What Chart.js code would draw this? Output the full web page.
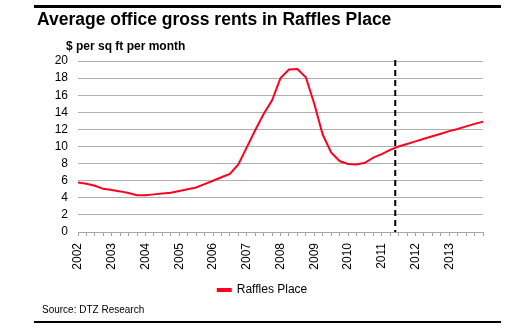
<!DOCTYPE html>
<html>
<head>
<meta charset="utf-8">
<script src="https://cdn.jsdelivr.net/npm/chart.js@4"></script>
<style>
  html, body { margin: 0; padding: 0; background: #fff; }
  #wrap { width: 530px; height: 335px; position: relative; }
</style>
</head>
<body>
<div id="wrap"><canvas id="c" width="530" height="335"></canvas></div>
<script>
// quarterly points, as decimal years
const quarters = [
  2002.00, 2002.25, 2002.50, 2002.75, 2003.00, 2003.25, 2003.50, 2003.75,
  2004.00, 2004.25, 2004.50, 2004.75, 2005.00, 2005.25, 2005.50, 2005.75,
  2006.00, 2006.25, 2006.50, 2006.75, 2007.00, 2007.25, 2007.50, 2007.75,
  2008.00, 2008.25, 2008.50, 2008.75, 2009.00, 2009.25, 2009.50, 2009.75,
  2010.00, 2010.25, 2010.50, 2010.75, 2011.00, 2011.25, 2011.50, 2011.75,
  2012.00, 2012.25, 2012.50, 2012.75, 2013.00, 2013.25, 2013.50, 2013.75,
  2014.00
];
const rafflesPlace = [
  5.8, 5.65, 5.4, 5.05, 4.9, 4.75, 4.55, 4.3,
  4.3, 4.4, 4.5, 4.6, 4.8, 5.0, 5.2, 5.6,
  6.0, 6.4, 6.8, 7.9, 9.9, 11.9, 13.8, 15.4,
  18.0, 19.0, 19.05, 18.1, 15.0, 11.4, 9.3, 8.3,
  7.95, 7.9, 8.1, 8.7, 9.1, 9.6, 10.0, 10.3,
  10.6, 10.9, 11.2, 11.5, 11.8, 12.05, 12.35, 12.65,
  12.9
];
const yearLabels = ["2002", "2003", "2004", "2005", "2006", "2007",
  "2008", "2009", "2010", "2011", "2012", "2013"];
const forecastStart = 2011.4;

const titleText = "Average office gross rents in Raffles Place";
const unitText = "$ per sq ft per month";
const sourceText = "Source: DTZ Research";

const FONT = "'Liberation Sans', Arial, sans-serif";

const extras = {
  id: "extras",
  afterDatasetsDraw(chart) {
    const ctx = chart.ctx;
    const x = chart.scales.x;
    const area = chart.chartArea;
    // forecast marker
    const px = x.getPixelForValue(forecastStart);
    ctx.save();
    ctx.strokeStyle = "#000";
    ctx.lineWidth = 2;
    ctx.setLineDash([6, 4]);
    ctx.beginPath();
    ctx.moveTo(px, area.top - 1);
    ctx.lineTo(px, area.bottom);
    ctx.stroke();
    ctx.restore();
  },
  afterDraw(chart) {
    const ctx = chart.ctx;
    ctx.save();
    // rules top and bottom
    ctx.fillStyle = "#000";
    ctx.fillRect(34, 5, 467, 3);
    ctx.fillRect(34, 321, 467, 2);
    ctx.textBaseline = "middle";
    ctx.textAlign = "left";
    ctx.font = "bold 17.5px " + FONT;
    ctx.fillText(titleText, 37, 20);
    ctx.font = "bold 12px " + FONT;
    ctx.fillText(unitText, 66, 47);
    ctx.font = "10px " + FONT;
    ctx.fillText(sourceText, 42, 310);
    ctx.restore();
  }
};

new Chart(document.getElementById("c"), {
  type: "line",
  data: {
    datasets: [{
      label: "Raffles Place",
      data: quarters.map((q, i) => ({ x: q, y: rafflesPlace[i] })),
      borderColor: "#ff0020",
      backgroundColor: "#ff0020",
      borderWidth: 2,
      pointRadius: 0,
      tension: 0
    }]
  },
  options: {
    responsive: false,
    animation: false,
    layout: { padding: { top: 61, left: 0, right: 5, bottom: 29 } },
    plugins: {
      legend: {
        position: "bottom",
        labels: {
          boxWidth: 13,
          boxHeight: 2,
          padding: 8,
          color: "#000",
          font: { family: FONT, size: 12 }
        }
      },
      tooltip: { enabled: false }
    },
    scales: {
      x: {
        type: "linear",
        min: 2002,
        max: 2014,
        afterBuildTicks: (scale) => {
          scale.ticks = quarters.map(q => ({ value: q }));
        },
        afterFit: (scale) => { scale.height = 44; },
        ticks: {
          autoSkip: false,
          maxRotation: 90,
          minRotation: 90,
          padding: 7,
          color: "#000",
          font: { family: FONT, size: 12 },
          callback: (v) => {
            const i = Math.round(v - 2002);
            return Number.isInteger(v) && i < yearLabels.length ? yearLabels[i] : "";
          }
        },
        grid: {
          drawOnChartArea: false,
          color: "#a6a6a6",
          tickLength: 4
        },
        border: { display: true, color: "#a6a6a6" }
      },
      y: {
        min: 0,
        max: 20,
        afterFit: (scale) => { scale.width = 78; },
        ticks: {
          stepSize: 2,
          autoSkip: false,
          padding: 10,
          color: "#000",
          font: { family: FONT, size: 12 }
        },
        grid: {
          color: "#b0b0b0",
          drawTicks: false
        },
        border: { display: false }
      },
      // empty right-hand strip so the legend centres on the full page
      spacer: {
        position: "right",
        min: 0,
        max: 1,
        afterFit: (scale) => { scale.width = 42; },
        ticks: { display: false },
        grid: { display: false },
        border: { display: false }
      }
    }
  },
  plugins: [extras]
});
</script>
</body>
</html>
